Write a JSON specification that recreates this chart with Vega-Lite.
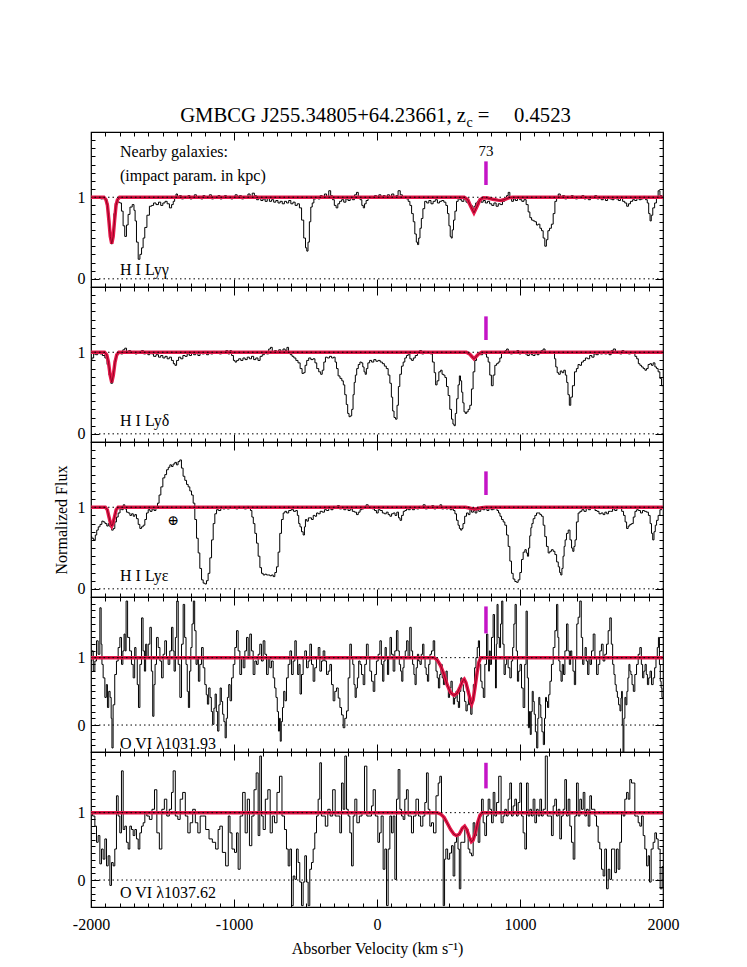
{
"$schema": "https://vega.github.io/schema/vega-lite/v6.json",
"background": "white",
"padding": {"left": 52, "top": 104, "right": 20, "bottom": 5},
"spacing": 0,
"bounds": "flush",
"config": {
  "font": "Liberation Serif",
  "view": {"stroke": "black", "strokeWidth": 1.2},
  "text": {"font": "Liberation Serif", "color": "black"},
  "axis": {"labelFont": "Liberation Serif", "titleFont": "Liberation Serif", "labelColor": "black", "titleColor": "black", "tickColor": "black", "labelFontSize": 16, "titleFontSize": 16, "titleFontWeight": "normal", "domain": false, "grid": false, "tickWidth": 1, "labelOverlap": false, "labelFlush": false, "labelBound": false}
},
"datasets": {
"lev": [{"f": 0}, {"f": 1}],
"m1": [{"v":-2000,"f":1},{"v":-1910,"f":1},{"v":-1895,"f":0.97},{"v":-1885,"f":0.9},{"v":-1875,"f":0.72},{"v":-1865,"f":0.52},{"v":-1855,"f":0.43},{"v":-1845,"f":0.52},{"v":-1835,"f":0.72},{"v":-1825,"f":0.9},{"v":-1815,"f":0.97},{"v":-1800,"f":1},{"v":610,"f":1},{"v":635,"f":0.97},{"v":655,"f":0.89},{"v":678,"f":0.81},{"v":700,"f":0.89},{"v":720,"f":0.97},{"v":745,"f":0.995},{"v":775,"f":0.99},{"v":810,"f":0.975},{"v":845,"f":0.965},{"v":867,"f":0.96},{"v":895,"f":0.975},{"v":925,"f":0.995},{"v":950,"f":1},{"v":2000,"f":1}],
"m2": [{"v":-2000,"f":1},{"v":-1905,"f":1},{"v":-1890,"f":0.97},{"v":-1878,"f":0.88},{"v":-1866,"f":0.72},{"v":-1855,"f":0.63},{"v":-1844,"f":0.72},{"v":-1832,"f":0.88},{"v":-1820,"f":0.97},{"v":-1805,"f":1},{"v":625,"f":1},{"v":650,"f":0.975},{"v":665,"f":0.945},{"v":678,"f":0.92},{"v":692,"f":0.945},{"v":708,"f":0.975},{"v":732,"f":1},{"v":2000,"f":1}],
"m3": [{"v":-2000,"f":1},{"v":-1900,"f":1},{"v":-1886,"f":0.97},{"v":-1874,"f":0.88},{"v":-1863,"f":0.8},{"v":-1855,"f":0.77},{"v":-1847,"f":0.8},{"v":-1836,"f":0.88},{"v":-1824,"f":0.97},{"v":-1810,"f":1},{"v":620,"f":1},{"v":660,"f":0.985},{"v":690,"f":0.98},{"v":720,"f":0.99},{"v":760,"f":1},{"v":2000,"f":1}],
"m4": [{"v":-2000,"f":1},{"v":399,"f":1},{"v":420,"f":0.97},{"v":445,"f":0.88},{"v":469,"f":0.75},{"v":490,"f":0.6},{"v":515,"f":0.48},{"v":538,"f":0.44},{"v":560,"f":0.47},{"v":580,"f":0.56},{"v":600,"f":0.66},{"v":610,"f":0.68},{"v":622,"f":0.63},{"v":640,"f":0.48},{"v":655,"f":0.35},{"v":662,"f":0.31},{"v":672,"f":0.37},{"v":685,"f":0.55},{"v":700,"f":0.78},{"v":712,"f":0.93},{"v":725,"f":1},{"v":2000,"f":1}],
"m5": [{"v":-2000,"f":1},{"v":420,"f":1},{"v":445,"f":0.98},{"v":469,"f":0.93},{"v":490,"f":0.85},{"v":515,"f":0.75},{"v":538,"f":0.68},{"v":555,"f":0.66},{"v":575,"f":0.68},{"v":597,"f":0.77},{"v":613,"f":0.8},{"v":628,"f":0.75},{"v":645,"f":0.64},{"v":660,"f":0.57},{"v":672,"f":0.59},{"v":688,"f":0.7},{"v":705,"f":0.86},{"v":720,"f":0.96},{"v":735,"f":1},{"v":2000,"f":1}],
"s1": [{"v":-2000,"f":1.0},{"v":-1985,"f":0.99},{"v":-1970,"f":1.01},{"v":-1955,"f":0.99},{"v":-1940,"f":1.0},{"v":-1925,"f":0.98},{"v":-1910,"f":0.99},{"v":-1895,"f":0.97},{"v":-1885,"f":0.92},{"v":-1875,"f":0.72},{"v":-1865,"f":0.5},{"v":-1855,"f":0.43},{"v":-1845,"f":0.55},{"v":-1835,"f":0.8},{"v":-1825,"f":0.93},{"v":-1816,"f":0.95},{"v":-1805,"f":0.94},{"v":-1793,"f":0.93},{"v":-1781,"f":0.83},{"v":-1770,"f":0.65},{"v":-1758,"f":0.52},{"v":-1746,"f":0.66},{"v":-1735,"f":0.79},{"v":-1720,"f":0.88},{"v":-1704,"f":0.91},{"v":-1695,"f":0.84},{"v":-1688,"f":0.71},{"v":-1676,"f":0.45},{"v":-1664,"f":0.24},{"v":-1652,"f":0.3},{"v":-1641,"f":0.38},{"v":-1630,"f":0.5},{"v":-1618,"f":0.63},{"v":-1600,"f":0.78},{"v":-1583,"f":0.89},{"v":-1570,"f":0.9},{"v":-1555,"f":0.93},{"v":-1536,"f":0.91},{"v":-1520,"f":0.94},{"v":-1505,"f":0.9},{"v":-1490,"f":0.93},{"v":-1475,"f":0.95},{"v":-1460,"f":0.92},{"v":-1443,"f":0.87},{"v":-1430,"f":0.91},{"v":-1420,"f":0.95},{"v":-1410,"f":1.0},{"v":-1401,"f":1.04},{"v":-1390,"f":0.99},{"v":-1375,"f":1.02},{"v":-1360,"f":0.98},{"v":-1345,"f":1.01},{"v":-1330,"f":0.99},{"v":-1315,"f":1.02},{"v":-1300,"f":0.98},{"v":-1285,"f":1.0},{"v":-1270,"f":1.03},{"v":-1255,"f":0.99},{"v":-1240,"f":1.01},{"v":-1225,"f":0.98},{"v":-1210,"f":1.02},{"v":-1195,"f":0.99},{"v":-1180,"f":1.0},{"v":-1165,"f":1.03},{"v":-1150,"f":0.98},{"v":-1135,"f":1.01},{"v":-1120,"f":0.99},{"v":-1105,"f":1.02},{"v":-1090,"f":0.98},{"v":-1075,"f":1.0},{"v":-1060,"f":1.02},{"v":-1045,"f":0.99},{"v":-1030,"f":1.01},{"v":-1015,"f":0.98},{"v":-1000,"f":1.0},{"v":-985,"f":1.03},{"v":-970,"f":0.99},{"v":-955,"f":1.02},{"v":-940,"f":0.98},{"v":-925,"f":1.01},{"v":-910,"f":1.0},{"v":-895,"f":1.04},{"v":-880,"f":0.99},{"v":-865,"f":1.05},{"v":-850,"f":1.02},{"v":-835,"f":0.97},{"v":-820,"f":1.0},{"v":-805,"f":0.96},{"v":-790,"f":0.98},{"v":-775,"f":0.95},{"v":-760,"f":0.99},{"v":-745,"f":0.95},{"v":-730,"f":0.97},{"v":-715,"f":0.94},{"v":-700,"f":0.96},{"v":-685,"f":0.93},{"v":-670,"f":0.95},{"v":-655,"f":0.92},{"v":-640,"f":0.95},{"v":-625,"f":0.93},{"v":-610,"f":0.96},{"v":-595,"f":0.92},{"v":-580,"f":0.94},{"v":-565,"f":0.9},{"v":-550,"f":0.92},{"v":-535,"f":0.87},{"v":-520,"f":0.72},{"v":-505,"f":0.5},{"v":-495,"f":0.38},{"v":-487,"f":0.34},{"v":-478,"f":0.45},{"v":-468,"f":0.7},{"v":-458,"f":0.88},{"v":-448,"f":0.93},{"v":-435,"f":0.98},{"v":-420,"f":1.0},{"v":-405,"f":0.98},{"v":-390,"f":1.02},{"v":-375,"f":1.0},{"v":-360,"f":1.04},{"v":-345,"f":1.01},{"v":-330,"f":1.08},{"v":-318,"f":1.02},{"v":-305,"f":0.97},{"v":-292,"f":0.9},{"v":-280,"f":0.87},{"v":-268,"f":0.92},{"v":-255,"f":0.95},{"v":-240,"f":0.97},{"v":-225,"f":0.94},{"v":-210,"f":0.98},{"v":-195,"f":0.96},{"v":-180,"f":0.99},{"v":-165,"f":0.97},{"v":-150,"f":1.03},{"v":-137,"f":1.06},{"v":-125,"f":1.0},{"v":-112,"f":0.97},{"v":-100,"f":0.9},{"v":-92,"f":0.87},{"v":-82,"f":0.92},{"v":-70,"f":0.96},{"v":-55,"f":0.99},{"v":-40,"f":1.01},{"v":-25,"f":0.99},{"v":-10,"f":1.02},{"v":5,"f":1.0},{"v":20,"f":1.03},{"v":35,"f":1.0},{"v":50,"f":1.02},{"v":65,"f":0.99},{"v":80,"f":1.03},{"v":95,"f":1.01},{"v":110,"f":1.04},{"v":125,"f":1.0},{"v":140,"f":1.02},{"v":155,"f":1.08},{"v":170,"f":1.03},{"v":185,"f":1.0},{"v":200,"f":1.01},{"v":212,"f":0.98},{"v":224,"f":0.95},{"v":236,"f":0.9},{"v":248,"f":0.8},{"v":259,"f":0.7},{"v":270,"f":0.55},{"v":280,"f":0.45},{"v":287,"f":0.42},{"v":296,"f":0.5},{"v":305,"f":0.62},{"v":315,"f":0.74},{"v":327,"f":0.86},{"v":340,"f":0.95},{"v":355,"f":0.93},{"v":370,"f":0.96},{"v":385,"f":0.92},{"v":400,"f":0.95},{"v":415,"f":0.97},{"v":430,"f":0.93},{"v":445,"f":0.95},{"v":460,"f":0.96},{"v":475,"f":0.94},{"v":488,"f":0.9},{"v":498,"f":0.8},{"v":508,"f":0.65},{"v":516,"f":0.52},{"v":522,"f":0.5},{"v":530,"f":0.6},{"v":540,"f":0.72},{"v":550,"f":0.83},{"v":562,"f":0.95},{"v":573,"f":1.0},{"v":585,"f":0.97},{"v":600,"f":0.95},{"v":615,"f":0.98},{"v":630,"f":0.94},{"v":645,"f":0.92},{"v":660,"f":0.9},{"v":672,"f":0.86},{"v":684,"f":0.89},{"v":696,"f":0.93},{"v":708,"f":0.95},{"v":720,"f":0.97},{"v":735,"f":0.94},{"v":750,"f":0.96},{"v":765,"f":0.93},{"v":780,"f":0.95},{"v":795,"f":0.92},{"v":810,"f":0.9},{"v":825,"f":0.93},{"v":841,"f":0.89},{"v":855,"f":0.92},{"v":870,"f":0.91},{"v":885,"f":0.95},{"v":900,"f":0.97},{"v":912,"f":1.02},{"v":923,"f":1.06},{"v":935,"f":0.99},{"v":948,"f":0.95},{"v":960,"f":0.98},{"v":975,"f":0.96},{"v":990,"f":0.99},{"v":1005,"f":0.97},{"v":1020,"f":0.95},{"v":1035,"f":0.97},{"v":1051,"f":0.91},{"v":1063,"f":0.82},{"v":1075,"f":0.75},{"v":1087,"f":0.72},{"v":1098,"f":0.71},{"v":1110,"f":0.7},{"v":1120,"f":0.66},{"v":1133,"f":0.67},{"v":1145,"f":0.62},{"v":1156,"f":0.59},{"v":1168,"f":0.5},{"v":1179,"f":0.4},{"v":1190,"f":0.48},{"v":1200,"f":0.59},{"v":1213,"f":0.62},{"v":1226,"f":0.67},{"v":1238,"f":0.8},{"v":1250,"f":0.95},{"v":1262,"f":1.0},{"v":1273,"f":1.04},{"v":1290,"f":0.99},{"v":1305,"f":1.02},{"v":1320,"f":0.98},{"v":1335,"f":1.01},{"v":1350,"f":0.99},{"v":1365,"f":1.02},{"v":1380,"f":1.0},{"v":1395,"f":0.98},{"v":1410,"f":1.01},{"v":1425,"f":0.99},{"v":1440,"f":1.02},{"v":1455,"f":0.98},{"v":1470,"f":1.0},{"v":1485,"f":0.97},{"v":1500,"f":1.01},{"v":1515,"f":0.99},{"v":1530,"f":1.02},{"v":1545,"f":0.98},{"v":1560,"f":1.0},{"v":1575,"f":0.97},{"v":1590,"f":0.99},{"v":1605,"f":0.96},{"v":1620,"f":1.0},{"v":1635,"f":0.98},{"v":1650,"f":0.97},{"v":1665,"f":1.0},{"v":1680,"f":0.98},{"v":1695,"f":0.96},{"v":1710,"f":0.99},{"v":1725,"f":0.95},{"v":1740,"f":0.93},{"v":1752,"f":0.89},{"v":1765,"f":0.92},{"v":1780,"f":0.95},{"v":1795,"f":0.97},{"v":1810,"f":0.96},{"v":1825,"f":0.99},{"v":1840,"f":0.97},{"v":1855,"f":0.98},{"v":1870,"f":1.01},{"v":1885,"f":0.97},{"v":1895,"f":0.93},{"v":1905,"f":0.8},{"v":1914,"f":0.71},{"v":1922,"f":0.78},{"v":1935,"f":0.87},{"v":1948,"f":0.93},{"v":1960,"f":1.0},{"v":1972,"f":1.08},{"v":1985,"f":1.02},{"v":2000,"f":1.0}],
"s2": [{"v":-2000,"f":0.9},{"v":-1988,"f":0.93},{"v":-1975,"f":0.98},{"v":-1960,"f":0.97},{"v":-1946,"f":1.0},{"v":-1930,"f":0.98},{"v":-1911,"f":0.96},{"v":-1895,"f":0.93},{"v":-1880,"f":0.85},{"v":-1868,"f":0.72},{"v":-1855,"f":0.62},{"v":-1843,"f":0.72},{"v":-1830,"f":0.9},{"v":-1815,"f":0.97},{"v":-1800,"f":1.0},{"v":-1785,"f":0.98},{"v":-1770,"f":1.03},{"v":-1758,"f":1.05},{"v":-1745,"f":1.0},{"v":-1730,"f":1.02},{"v":-1715,"f":0.99},{"v":-1699,"f":1.01},{"v":-1685,"f":0.98},{"v":-1670,"f":1.0},{"v":-1655,"f":0.99},{"v":-1640,"f":1.02},{"v":-1625,"f":0.98},{"v":-1610,"f":1.0},{"v":-1595,"f":0.97},{"v":-1583,"f":1.0},{"v":-1570,"f":0.98},{"v":-1555,"f":0.95},{"v":-1536,"f":0.97},{"v":-1520,"f":0.94},{"v":-1505,"f":0.96},{"v":-1490,"f":0.93},{"v":-1475,"f":0.95},{"v":-1460,"f":0.92},{"v":-1445,"f":0.94},{"v":-1430,"f":0.9},{"v":-1418,"f":0.86},{"v":-1408,"f":0.84},{"v":-1395,"f":0.9},{"v":-1380,"f":0.94},{"v":-1365,"f":0.92},{"v":-1350,"f":0.96},{"v":-1335,"f":0.95},{"v":-1320,"f":0.98},{"v":-1305,"f":0.96},{"v":-1290,"f":0.99},{"v":-1275,"f":0.97},{"v":-1260,"f":0.99},{"v":-1245,"f":0.96},{"v":-1230,"f":1.0},{"v":-1215,"f":0.98},{"v":-1200,"f":1.01},{"v":-1185,"f":0.97},{"v":-1170,"f":1.0},{"v":-1155,"f":0.98},{"v":-1140,"f":1.01},{"v":-1125,"f":0.99},{"v":-1110,"f":1.0},{"v":-1095,"f":0.98},{"v":-1080,"f":1.01},{"v":-1065,"f":0.99},{"v":-1050,"f":1.02},{"v":-1035,"f":0.98},{"v":-1023,"f":1.02},{"v":-1010,"f":0.96},{"v":-998,"f":0.9},{"v":-988,"f":0.88},{"v":-975,"f":0.9},{"v":-960,"f":0.92},{"v":-945,"f":0.9},{"v":-930,"f":0.93},{"v":-915,"f":0.91},{"v":-900,"f":0.94},{"v":-885,"f":0.92},{"v":-870,"f":0.95},{"v":-855,"f":0.91},{"v":-840,"f":0.93},{"v":-825,"f":0.9},{"v":-810,"f":0.95},{"v":-795,"f":0.97},{"v":-780,"f":1.0},{"v":-765,"f":0.98},{"v":-750,"f":1.04},{"v":-740,"f":1.06},{"v":-725,"f":1.0},{"v":-710,"f":1.02},{"v":-695,"f":0.99},{"v":-680,"f":1.03},{"v":-665,"f":1.0},{"v":-650,"f":1.04},{"v":-635,"f":1.02},{"v":-625,"f":1.06},{"v":-612,"f":1.0},{"v":-600,"f":0.97},{"v":-588,"f":0.95},{"v":-575,"f":0.93},{"v":-560,"f":0.9},{"v":-545,"f":0.87},{"v":-530,"f":0.8},{"v":-518,"f":0.74},{"v":-508,"f":0.75},{"v":-498,"f":0.84},{"v":-485,"f":0.9},{"v":-470,"f":0.93},{"v":-455,"f":0.91},{"v":-440,"f":0.92},{"v":-428,"f":0.87},{"v":-415,"f":0.8},{"v":-400,"f":0.76},{"v":-388,"f":0.73},{"v":-378,"f":0.78},{"v":-366,"f":0.88},{"v":-355,"f":0.94},{"v":-340,"f":0.93},{"v":-325,"f":0.95},{"v":-310,"f":0.93},{"v":-298,"f":0.94},{"v":-288,"f":0.88},{"v":-278,"f":0.8},{"v":-266,"f":0.71},{"v":-252,"f":0.68},{"v":-240,"f":0.65},{"v":-231,"f":0.6},{"v":-220,"f":0.48},{"v":-210,"f":0.36},{"v":-200,"f":0.25},{"v":-191,"f":0.21},{"v":-182,"f":0.22},{"v":-172,"f":0.3},{"v":-163,"f":0.48},{"v":-156,"f":0.63},{"v":-147,"f":0.72},{"v":-137,"f":0.8},{"v":-125,"f":0.85},{"v":-114,"f":0.88},{"v":-104,"f":0.87},{"v":-95,"f":0.82},{"v":-86,"f":0.76},{"v":-79,"f":0.73},{"v":-70,"f":0.8},{"v":-58,"f":0.87},{"v":-45,"f":0.9},{"v":-30,"f":0.88},{"v":-15,"f":0.91},{"v":0,"f":0.89},{"v":15,"f":0.9},{"v":30,"f":0.88},{"v":45,"f":0.86},{"v":58,"f":0.83},{"v":72,"f":0.8},{"v":84,"f":0.72},{"v":96,"f":0.62},{"v":105,"f":0.45},{"v":114,"f":0.28},{"v":124,"f":0.2},{"v":135,"f":0.18},{"v":145,"f":0.35},{"v":154,"f":0.58},{"v":165,"f":0.73},{"v":177,"f":0.83},{"v":189,"f":0.88},{"v":200,"f":0.93},{"v":212,"f":0.96},{"v":224,"f":0.98},{"v":236,"f":0.92},{"v":248,"f":0.9},{"v":260,"f":0.93},{"v":275,"f":0.96},{"v":290,"f":0.99},{"v":305,"f":1.02},{"v":320,"f":0.98},{"v":335,"f":1.01},{"v":350,"f":0.99},{"v":365,"f":1.0},{"v":380,"f":0.98},{"v":395,"f":0.88},{"v":405,"f":0.75},{"v":415,"f":0.6},{"v":425,"f":0.65},{"v":440,"f":0.76},{"v":450,"f":0.78},{"v":460,"f":0.73},{"v":470,"f":0.72},{"v":480,"f":0.69},{"v":492,"f":0.58},{"v":503,"f":0.47},{"v":515,"f":0.3},{"v":527,"f":0.18},{"v":535,"f":0.12},{"v":543,"f":0.1},{"v":552,"f":0.25},{"v":562,"f":0.43},{"v":572,"f":0.6},{"v":580,"f":0.71},{"v":588,"f":0.65},{"v":596,"f":0.51},{"v":604,"f":0.38},{"v":613,"f":0.27},{"v":622,"f":0.25},{"v":632,"f":0.27},{"v":643,"f":0.3},{"v":655,"f":0.35},{"v":666,"f":0.55},{"v":678,"f":0.76},{"v":690,"f":0.9},{"v":702,"f":0.96},{"v":715,"f":0.98},{"v":730,"f":0.97},{"v":748,"f":1.0},{"v":760,"f":0.98},{"v":772,"f":0.94},{"v":783,"f":0.88},{"v":794,"f":0.72},{"v":806,"f":0.59},{"v":818,"f":0.72},{"v":830,"f":0.84},{"v":842,"f":0.86},{"v":853,"f":0.88},{"v":865,"f":0.93},{"v":876,"f":1.0},{"v":890,"f":0.99},{"v":902,"f":1.02},{"v":911,"f":1.04},{"v":925,"f":1.0},{"v":940,"f":0.98},{"v":955,"f":1.01},{"v":970,"f":0.99},{"v":985,"f":1.02},{"v":1000,"f":0.98},{"v":1015,"f":1.01},{"v":1028,"f":1.0},{"v":1042,"f":0.98},{"v":1058,"f":0.96},{"v":1072,"f":0.99},{"v":1085,"f":0.97},{"v":1098,"f":0.96},{"v":1112,"f":0.99},{"v":1126,"f":0.97},{"v":1140,"f":1.0},{"v":1155,"f":1.02},{"v":1168,"f":1.04},{"v":1182,"f":1.0},{"v":1196,"f":0.99},{"v":1210,"f":1.01},{"v":1225,"f":0.99},{"v":1238,"f":1.0},{"v":1245,"f":0.92},{"v":1255,"f":0.82},{"v":1265,"f":0.75},{"v":1275,"f":0.73},{"v":1288,"f":0.77},{"v":1300,"f":0.75},{"v":1312,"f":0.78},{"v":1322,"f":0.72},{"v":1331,"f":0.63},{"v":1340,"f":0.48},{"v":1350,"f":0.35},{"v":1360,"f":0.45},{"v":1373,"f":0.59},{"v":1389,"f":0.76},{"v":1400,"f":0.8},{"v":1412,"f":0.85},{"v":1424,"f":0.84},{"v":1436,"f":0.88},{"v":1450,"f":0.9},{"v":1465,"f":0.93},{"v":1480,"f":0.92},{"v":1494,"f":0.96},{"v":1510,"f":0.94},{"v":1525,"f":0.98},{"v":1540,"f":0.97},{"v":1555,"f":1.0},{"v":1570,"f":0.98},{"v":1585,"f":1.01},{"v":1600,"f":0.98},{"v":1615,"f":1.0},{"v":1630,"f":0.97},{"v":1645,"f":1.02},{"v":1660,"f":1.04},{"v":1675,"f":0.99},{"v":1690,"f":1.01},{"v":1705,"f":0.98},{"v":1720,"f":1.02},{"v":1735,"f":0.99},{"v":1750,"f":1.01},{"v":1765,"f":0.98},{"v":1780,"f":1.0},{"v":1797,"f":0.99},{"v":1810,"f":0.95},{"v":1822,"f":0.92},{"v":1833,"f":0.86},{"v":1844,"f":0.84},{"v":1855,"f":0.82},{"v":1868,"f":0.8},{"v":1879,"f":0.78},{"v":1890,"f":0.8},{"v":1902,"f":0.85},{"v":1914,"f":0.86},{"v":1925,"f":0.84},{"v":1937,"f":0.87},{"v":1950,"f":0.82},{"v":1960,"f":0.8},{"v":1972,"f":0.76},{"v":1984,"f":0.68},{"v":1995,"f":0.59},{"v":2000,"f":0.59}],
"s3": [{"v":-2000,"f":0.64},{"v":-1988,"f":0.62},{"v":-1975,"f":0.6},{"v":-1965,"f":0.66},{"v":-1955,"f":0.72},{"v":-1944,"f":0.76},{"v":-1930,"f":0.79},{"v":-1918,"f":0.83},{"v":-1909,"f":0.82},{"v":-1895,"f":0.8},{"v":-1884,"f":0.77},{"v":-1874,"f":0.8},{"v":-1862,"f":0.76},{"v":-1850,"f":0.72},{"v":-1839,"f":0.74},{"v":-1828,"f":0.82},{"v":-1816,"f":0.88},{"v":-1804,"f":0.93},{"v":-1790,"f":0.98},{"v":-1780,"f":0.97},{"v":-1769,"f":1.03},{"v":-1758,"f":0.98},{"v":-1746,"f":0.94},{"v":-1734,"f":0.93},{"v":-1722,"f":0.9},{"v":-1710,"f":0.92},{"v":-1699,"f":0.89},{"v":-1688,"f":0.91},{"v":-1676,"f":0.86},{"v":-1664,"f":0.79},{"v":-1653,"f":0.74},{"v":-1641,"f":0.76},{"v":-1629,"f":0.78},{"v":-1618,"f":0.85},{"v":-1606,"f":0.93},{"v":-1594,"f":0.97},{"v":-1580,"f":0.95},{"v":-1566,"f":0.98},{"v":-1552,"f":0.96},{"v":-1540,"f":1.0},{"v":-1530,"f":1.05},{"v":-1518,"f":1.15},{"v":-1505,"f":1.25},{"v":-1490,"f":1.36},{"v":-1478,"f":1.4},{"v":-1465,"f":1.46},{"v":-1454,"f":1.49},{"v":-1443,"f":1.52},{"v":-1432,"f":1.5},{"v":-1420,"f":1.53},{"v":-1408,"f":1.55},{"v":-1397,"f":1.52},{"v":-1385,"f":1.56},{"v":-1373,"f":1.58},{"v":-1362,"f":1.48},{"v":-1350,"f":1.38},{"v":-1338,"f":1.33},{"v":-1326,"f":1.28},{"v":-1315,"f":1.25},{"v":-1303,"f":1.2},{"v":-1291,"f":1.15},{"v":-1280,"f":1.05},{"v":-1268,"f":0.85},{"v":-1256,"f":0.62},{"v":-1245,"f":0.44},{"v":-1233,"f":0.25},{"v":-1221,"f":0.11},{"v":-1210,"f":0.07},{"v":-1198,"f":0.06},{"v":-1187,"f":0.1},{"v":-1175,"f":0.19},{"v":-1163,"f":0.38},{"v":-1151,"f":0.6},{"v":-1140,"f":0.8},{"v":-1128,"f":0.92},{"v":-1116,"f":0.97},{"v":-1100,"f":0.96},{"v":-1085,"f":0.99},{"v":-1070,"f":0.98},{"v":-1055,"f":1.0},{"v":-1040,"f":0.98},{"v":-1025,"f":1.01},{"v":-1010,"f":0.99},{"v":-995,"f":1.0},{"v":-980,"f":0.98},{"v":-965,"f":1.01},{"v":-950,"f":0.99},{"v":-935,"f":1.0},{"v":-920,"f":0.98},{"v":-905,"f":1.01},{"v":-890,"f":0.99},{"v":-880,"f":0.96},{"v":-870,"f":0.88},{"v":-860,"f":0.8},{"v":-848,"f":0.68},{"v":-837,"f":0.56},{"v":-825,"f":0.4},{"v":-813,"f":0.26},{"v":-802,"f":0.19},{"v":-790,"f":0.17},{"v":-778,"f":0.18},{"v":-767,"f":0.17},{"v":-755,"f":0.17},{"v":-743,"f":0.16},{"v":-732,"f":0.17},{"v":-720,"f":0.15},{"v":-709,"f":0.2},{"v":-697,"f":0.27},{"v":-686,"f":0.45},{"v":-674,"f":0.68},{"v":-662,"f":0.85},{"v":-650,"f":0.93},{"v":-639,"f":0.95},{"v":-625,"f":0.93},{"v":-610,"f":0.96},{"v":-592,"f":0.97},{"v":-575,"f":0.95},{"v":-562,"f":0.96},{"v":-552,"f":0.9},{"v":-543,"f":0.8},{"v":-534,"f":0.76},{"v":-522,"f":0.7},{"v":-511,"f":0.66},{"v":-504,"f":0.76},{"v":-497,"f":0.85},{"v":-485,"f":0.83},{"v":-475,"f":0.87},{"v":-464,"f":0.87},{"v":-452,"f":0.85},{"v":-440,"f":0.9},{"v":-428,"f":0.89},{"v":-417,"f":0.93},{"v":-405,"f":0.92},{"v":-390,"f":0.95},{"v":-375,"f":0.94},{"v":-360,"f":0.97},{"v":-345,"f":0.96},{"v":-330,"f":0.99},{"v":-315,"f":0.97},{"v":-300,"f":1.01},{"v":-285,"f":0.99},{"v":-270,"f":1.02},{"v":-255,"f":0.98},{"v":-240,"f":1.0},{"v":-225,"f":0.97},{"v":-210,"f":0.99},{"v":-195,"f":0.96},{"v":-180,"f":0.98},{"v":-165,"f":0.95},{"v":-150,"f":0.94},{"v":-137,"f":0.91},{"v":-125,"f":0.94},{"v":-112,"f":0.97},{"v":-100,"f":0.98},{"v":-85,"f":1.0},{"v":-68,"f":1.03},{"v":-55,"f":0.99},{"v":-40,"f":1.01},{"v":-25,"f":0.98},{"v":-10,"f":0.96},{"v":2,"f":0.93},{"v":15,"f":0.97},{"v":30,"f":0.96},{"v":45,"f":0.93},{"v":58,"f":0.92},{"v":72,"f":0.94},{"v":84,"f":0.91},{"v":96,"f":0.89},{"v":108,"f":0.92},{"v":120,"f":0.93},{"v":132,"f":0.9},{"v":145,"f":0.94},{"v":156,"f":0.87},{"v":166,"f":0.84},{"v":178,"f":0.9},{"v":190,"f":0.95},{"v":200,"f":0.96},{"v":212,"f":0.98},{"v":225,"f":0.97},{"v":240,"f":0.99},{"v":255,"f":0.97},{"v":270,"f":1.0},{"v":285,"f":0.98},{"v":300,"f":1.01},{"v":315,"f":0.99},{"v":329,"f":1.03},{"v":345,"f":0.98},{"v":360,"f":1.01},{"v":375,"f":0.99},{"v":390,"f":1.02},{"v":405,"f":0.98},{"v":420,"f":1.01},{"v":435,"f":0.99},{"v":445,"f":1.03},{"v":460,"f":0.98},{"v":475,"f":1.0},{"v":490,"f":0.98},{"v":505,"f":0.99},{"v":518,"f":0.97},{"v":527,"f":0.98},{"v":540,"f":0.96},{"v":550,"f":0.92},{"v":562,"f":0.84},{"v":572,"f":0.78},{"v":580,"f":0.74},{"v":590,"f":0.72},{"v":597,"f":0.74},{"v":606,"f":0.8},{"v":620,"f":0.89},{"v":632,"f":0.93},{"v":645,"f":0.91},{"v":655,"f":0.97},{"v":668,"f":0.94},{"v":680,"f":0.96},{"v":692,"f":0.93},{"v":705,"f":0.97},{"v":718,"f":0.95},{"v":733,"f":0.98},{"v":748,"f":0.97},{"v":762,"f":0.99},{"v":775,"f":0.96},{"v":790,"f":0.99},{"v":805,"f":0.97},{"v":820,"f":0.98},{"v":833,"f":0.99},{"v":845,"f":0.96},{"v":855,"f":0.93},{"v":865,"f":0.89},{"v":877,"f":0.85},{"v":888,"f":0.82},{"v":900,"f":0.78},{"v":912,"f":0.66},{"v":923,"f":0.52},{"v":935,"f":0.34},{"v":946,"f":0.19},{"v":958,"f":0.12},{"v":970,"f":0.09},{"v":981,"f":0.08},{"v":993,"f":0.11},{"v":1005,"f":0.2},{"v":1016,"f":0.36},{"v":1028,"f":0.45},{"v":1040,"f":0.48},{"v":1048,"f":0.44},{"v":1056,"f":0.4},{"v":1064,"f":0.5},{"v":1072,"f":0.65},{"v":1080,"f":0.75},{"v":1086,"f":0.8},{"v":1098,"f":0.86},{"v":1110,"f":0.9},{"v":1121,"f":0.93},{"v":1133,"f":0.93},{"v":1145,"f":0.91},{"v":1156,"f":0.89},{"v":1168,"f":0.78},{"v":1179,"f":0.64},{"v":1191,"f":0.52},{"v":1203,"f":0.44},{"v":1214,"f":0.46},{"v":1226,"f":0.48},{"v":1238,"f":0.46},{"v":1250,"f":0.42},{"v":1262,"f":0.33},{"v":1273,"f":0.27},{"v":1281,"f":0.2},{"v":1289,"f":0.17},{"v":1297,"f":0.25},{"v":1305,"f":0.4},{"v":1312,"f":0.52},{"v":1319,"f":0.6},{"v":1331,"f":0.68},{"v":1343,"f":0.72},{"v":1356,"f":0.6},{"v":1365,"f":0.5},{"v":1373,"f":0.46},{"v":1381,"f":0.52},{"v":1389,"f":0.6},{"v":1400,"f":0.82},{"v":1413,"f":0.93},{"v":1425,"f":0.95},{"v":1440,"f":0.97},{"v":1455,"f":0.95},{"v":1471,"f":0.99},{"v":1485,"f":0.97},{"v":1500,"f":0.99},{"v":1518,"f":1.0},{"v":1532,"f":0.96},{"v":1545,"f":0.95},{"v":1560,"f":0.92},{"v":1575,"f":0.93},{"v":1587,"f":0.91},{"v":1600,"f":0.94},{"v":1612,"f":0.92},{"v":1625,"f":0.95},{"v":1640,"f":0.95},{"v":1655,"f":0.98},{"v":1670,"f":0.96},{"v":1685,"f":0.99},{"v":1704,"f":0.99},{"v":1718,"f":0.95},{"v":1730,"f":0.9},{"v":1740,"f":0.82},{"v":1751,"f":0.74},{"v":1762,"f":0.77},{"v":1774,"f":0.79},{"v":1786,"f":0.8},{"v":1798,"f":0.88},{"v":1810,"f":0.95},{"v":1821,"f":0.97},{"v":1835,"f":0.96},{"v":1850,"f":0.93},{"v":1863,"f":0.96},{"v":1877,"f":0.95},{"v":1891,"f":0.94},{"v":1905,"f":0.9},{"v":1915,"f":0.8},{"v":1924,"f":0.68},{"v":1932,"f":0.6},{"v":1942,"f":0.7},{"v":1950,"f":0.78},{"v":1960,"f":0.84},{"v":1972,"f":0.9},{"v":1985,"f":0.97},{"v":1995,"f":0.99},{"v":2000,"f":0.99}],
"s4": [{"v":-2000,"f":0.95},{"v":-1989,"f":1.1},{"v":-1979,"f":0.8},{"v":-1967,"f":0.95},{"v":-1956,"f":1.25},{"v":-1944,"f":1.05},{"v":-1932,"f":1.74},{"v":-1926,"f":1.2},{"v":-1921,"f":0.9},{"v":-1909,"f":0.7},{"v":-1897,"f":0.41},{"v":-1889,"f":0.6},{"v":-1881,"f":0.26},{"v":-1871,"f":0.5},{"v":-1862,"f":0.41},{"v":-1856,"f":0.1},{"v":-1851,"f":-0.34},{"v":-1840,"f":0.3},{"v":-1828,"f":0.75},{"v":-1816,"f":0.95},{"v":-1804,"f":1.15},{"v":-1792,"f":1.3},{"v":-1781,"f":0.9},{"v":-1773,"f":1.1},{"v":-1765,"f":1.35},{"v":-1758,"f":1.1},{"v":-1751,"f":1.84},{"v":-1737,"f":1.3},{"v":-1723,"f":1.1},{"v":-1711,"f":0.9},{"v":-1699,"f":0.7},{"v":-1690,"f":1.15},{"v":-1681,"f":1.0},{"v":-1672,"f":0.6},{"v":-1664,"f":0.26},{"v":-1652,"f":0.9},{"v":-1641,"f":1.59},{"v":-1631,"f":1.1},{"v":-1622,"f":0.8},{"v":-1614,"f":1.2},{"v":-1606,"f":1.0},{"v":-1594,"f":1.2},{"v":-1583,"f":1.45},{"v":-1573,"f":0.8},{"v":-1564,"f":0.13},{"v":-1556,"f":0.6},{"v":-1548,"f":0.9},{"v":-1536,"f":1.3},{"v":-1524,"f":1.15},{"v":-1512,"f":0.95},{"v":-1501,"f":0.7},{"v":-1490,"f":1.05},{"v":-1478,"f":1.25},{"v":-1466,"f":1.0},{"v":-1455,"f":0.9},{"v":-1443,"f":1.1},{"v":-1431,"f":1.45},{"v":-1423,"f":1.1},{"v":-1415,"f":0.8},{"v":-1405,"f":1.3},{"v":-1396,"f":1.84},{"v":-1384,"f":0.9},{"v":-1373,"f":0.41},{"v":-1361,"f":1.2},{"v":-1350,"f":1.79},{"v":-1340,"f":1.3},{"v":-1331,"f":0.9},{"v":-1323,"f":0.5},{"v":-1315,"f":0.26},{"v":-1306,"f":0.8},{"v":-1298,"f":1.15},{"v":-1289,"f":1.5},{"v":-1280,"f":1.84},{"v":-1270,"f":1.4},{"v":-1261,"f":0.9},{"v":-1253,"f":1.0},{"v":-1245,"f":0.65},{"v":-1233,"f":0.9},{"v":-1221,"f":1.15},{"v":-1210,"f":0.85},{"v":-1198,"f":0.6},{"v":-1190,"f":0.45},{"v":-1182,"f":0.31},{"v":-1172,"f":0.55},{"v":-1163,"f":0.41},{"v":-1154,"f":0.2},{"v":-1145,"f":0.01},{"v":-1136,"f":0.25},{"v":-1128,"f":0.46},{"v":-1119,"f":0.2},{"v":-1110,"f":-0.09},{"v":-1101,"f":0.3},{"v":-1093,"f":0.55},{"v":-1084,"f":0.35},{"v":-1075,"f":0.16},{"v":-1066,"f":0.05},{"v":-1058,"f":-0.19},{"v":-1050,"f":0.1},{"v":-1042,"f":0.41},{"v":-1032,"f":0.6},{"v":-1023,"f":0.36},{"v":-1011,"f":0.7},{"v":-1000,"f":0.9},{"v":-988,"f":1.15},{"v":-977,"f":1.4},{"v":-965,"f":1.1},{"v":-953,"f":0.75},{"v":-941,"f":1.0},{"v":-930,"f":0.85},{"v":-918,"f":1.1},{"v":-907,"f":1.3},{"v":-895,"f":1.0},{"v":-884,"f":1.35},{"v":-872,"f":1.1},{"v":-860,"f":0.75},{"v":-848,"f":0.95},{"v":-837,"f":0.9},{"v":-825,"f":1.05},{"v":-814,"f":1.2},{"v":-802,"f":0.95},{"v":-790,"f":1.25},{"v":-778,"f":1.05},{"v":-767,"f":0.75},{"v":-755,"f":1.0},{"v":-744,"f":0.85},{"v":-732,"f":0.95},{"v":-720,"f":0.7},{"v":-711,"f":0.55},{"v":-702,"f":0.41},{"v":-693,"f":0.2},{"v":-685,"f":-0.09},{"v":-679,"f":0.1},{"v":-674,"f":-0.24},{"v":-665,"f":0.05},{"v":-657,"f":0.26},{"v":-648,"f":0.5},{"v":-639,"f":0.36},{"v":-627,"f":0.7},{"v":-615,"f":0.9},{"v":-603,"f":1.1},{"v":-592,"f":0.75},{"v":-580,"f":0.95},{"v":-569,"f":1.25},{"v":-560,"f":1.0},{"v":-550,"f":0.75},{"v":-542,"f":0.9},{"v":-534,"f":0.46},{"v":-522,"f":0.75},{"v":-511,"f":1.0},{"v":-499,"f":1.1},{"v":-487,"f":0.85},{"v":-475,"f":0.95},{"v":-464,"f":1.2},{"v":-452,"f":0.9},{"v":-441,"f":0.65},{"v":-429,"f":0.85},{"v":-417,"f":1.0},{"v":-405,"f":1.15},{"v":-394,"f":0.8},{"v":-382,"f":0.95},{"v":-371,"f":1.1},{"v":-359,"f":0.95},{"v":-347,"f":0.75},{"v":-335,"f":0.8},{"v":-324,"f":0.9},{"v":-312,"f":0.6},{"v":-301,"f":0.36},{"v":-289,"f":0.5},{"v":-277,"f":0.55},{"v":-265,"f":0.4},{"v":-254,"f":0.26},{"v":-242,"f":0.15},{"v":-231,"f":-0.04},{"v":-219,"f":0.1},{"v":-207,"f":0.21},{"v":-196,"f":0.7},{"v":-184,"f":1.2},{"v":-174,"f":1.0},{"v":-165,"f":0.9},{"v":-157,"f":0.6},{"v":-149,"f":0.41},{"v":-141,"f":0.55},{"v":-133,"f":0.7},{"v":-123,"f":0.95},{"v":-114,"f":0.9},{"v":-102,"f":0.75},{"v":-91,"f":0.6},{"v":-80,"f":0.9},{"v":-68,"f":1.2},{"v":-56,"f":1.0},{"v":-44,"f":0.8},{"v":-32,"f":0.65},{"v":-21,"f":0.5},{"v":-10,"f":0.75},{"v":2,"f":0.95},{"v":14,"f":1.05},{"v":26,"f":1.25},{"v":35,"f":0.9},{"v":44,"f":0.65},{"v":52,"f":0.95},{"v":61,"f":1.15},{"v":69,"f":1.0},{"v":77,"f":0.75},{"v":86,"f":1.0},{"v":96,"f":1.3},{"v":107,"f":1.05},{"v":119,"f":0.8},{"v":130,"f":1.1},{"v":142,"f":1.4},{"v":151,"f":1.1},{"v":161,"f":0.9},{"v":169,"f":0.8},{"v":177,"f":0.65},{"v":185,"f":0.85},{"v":193,"f":1.0},{"v":202,"f":1.1},{"v":212,"f":1.25},{"v":223,"f":1.0},{"v":235,"f":1.45},{"v":244,"f":1.1},{"v":254,"f":0.9},{"v":262,"f":0.75},{"v":270,"f":0.6},{"v":278,"f":0.85},{"v":287,"f":1.05},{"v":296,"f":0.95},{"v":305,"f":0.9},{"v":314,"f":1.05},{"v":324,"f":1.2},{"v":332,"f":1.0},{"v":340,"f":0.85},{"v":348,"f":0.75},{"v":357,"f":0.65},{"v":366,"f":0.9},{"v":375,"f":1.05},{"v":387,"f":1.1},{"v":399,"f":1.25},{"v":408,"f":1.0},{"v":417,"f":0.8},{"v":425,"f":0.7},{"v":434,"f":0.55},{"v":443,"f":0.75},{"v":452,"f":0.9},{"v":460,"f":0.7},{"v":469,"f":0.6},{"v":478,"f":0.7},{"v":487,"f":0.8},{"v":495,"f":0.6},{"v":503,"f":0.41},{"v":512,"f":0.55},{"v":522,"f":0.65},{"v":530,"f":0.45},{"v":538,"f":0.31},{"v":547,"f":0.4},{"v":557,"f":0.5},{"v":565,"f":0.35},{"v":573,"f":0.26},{"v":582,"f":0.5},{"v":590,"f":0.7},{"v":599,"f":0.6},{"v":608,"f":0.5},{"v":617,"f":0.35},{"v":627,"f":0.21},{"v":635,"f":0.3},{"v":643,"f":0.41},{"v":651,"f":0.3},{"v":660,"f":0.16},{"v":669,"f":0.35},{"v":678,"f":0.6},{"v":687,"f":0.85},{"v":697,"f":1.0},{"v":705,"f":1.15},{"v":713,"f":1.25},{"v":721,"f":0.9},{"v":730,"f":0.65},{"v":739,"f":0.55},{"v":748,"f":0.41},{"v":760,"f":0.9},{"v":772,"f":1.35},{"v":778,"f":1.0},{"v":783,"f":0.8},{"v":789,"f":1.1},{"v":795,"f":0.9},{"v":806,"f":1.3},{"v":818,"f":1.64},{"v":825,"f":1.0},{"v":832,"f":0.55},{"v":837,"f":1.2},{"v":842,"f":1.79},{"v":851,"f":1.3},{"v":860,"f":1.15},{"v":868,"f":1.5},{"v":876,"f":1.84},{"v":884,"f":1.2},{"v":893,"f":0.75},{"v":902,"f":0.9},{"v":911,"f":1.0},{"v":923,"f":0.85},{"v":935,"f":0.7},{"v":944,"f":0.95},{"v":953,"f":1.15},{"v":961,"f":1.5},{"v":970,"f":1.79},{"v":978,"f":1.1},{"v":986,"f":0.65},{"v":995,"f":0.8},{"v":1005,"f":0.9},{"v":1016,"f":0.55},{"v":1028,"f":0.26},{"v":1038,"f":0.9},{"v":1047,"f":1.69},{"v":1055,"f":0.7},{"v":1063,"f":-0.04},{"v":1069,"f":0.2},{"v":1075,"f":-0.14},{"v":1082,"f":0.2},{"v":1089,"f":0.5},{"v":1096,"f":0.35},{"v":1103,"f":0.16},{"v":1112,"f":-0.1},{"v":1121,"f":-0.34},{"v":1128,"f":0.1},{"v":1135,"f":0.41},{"v":1142,"f":0.3},{"v":1149,"f":0.11},{"v":1158,"f":-0.1},{"v":1168,"f":-0.29},{"v":1175,"f":0.1},{"v":1182,"f":0.41},{"v":1189,"f":0.35},{"v":1196,"f":0.26},{"v":1205,"f":0.45},{"v":1214,"f":0.65},{"v":1226,"f":0.9},{"v":1238,"f":1.15},{"v":1250,"f":1.4},{"v":1261,"f":1.79},{"v":1268,"f":1.3},{"v":1275,"f":0.95},{"v":1283,"f":0.8},{"v":1291,"f":0.65},{"v":1300,"f":0.9},{"v":1308,"f":0.75},{"v":1320,"f":1.1},{"v":1331,"f":1.5},{"v":1340,"f":1.1},{"v":1350,"f":0.9},{"v":1358,"f":1.1},{"v":1366,"f":1.0},{"v":1375,"f":0.8},{"v":1385,"f":0.6},{"v":1393,"f":1.0},{"v":1401,"f":1.5},{"v":1412,"f":1.6},{"v":1424,"f":1.84},{"v":1433,"f":1.3},{"v":1443,"f":0.9},{"v":1451,"f":1.0},{"v":1459,"f":1.15},{"v":1468,"f":0.95},{"v":1478,"f":0.75},{"v":1486,"f":1.0},{"v":1494,"f":0.9},{"v":1506,"f":1.1},{"v":1518,"f":1.35},{"v":1530,"f":1.0},{"v":1541,"f":0.75},{"v":1552,"f":0.9},{"v":1564,"f":1.1},{"v":1575,"f":1.2},{"v":1587,"f":0.95},{"v":1599,"f":1.05},{"v":1611,"f":1.2},{"v":1622,"f":1.4},{"v":1634,"f":1.59},{"v":1643,"f":1.2},{"v":1653,"f":0.9},{"v":1661,"f":0.75},{"v":1669,"f":0.6},{"v":1677,"f":0.5},{"v":1685,"f":0.41},{"v":1694,"f":0.3},{"v":1704,"f":0.21},{"v":1708,"f":0.4},{"v":1713,"f":0.5},{"v":1718,"f":0.0},{"v":1723,"f":-0.44},{"v":1730,"f":0.1},{"v":1737,"f":0.41},{"v":1744,"f":0.3},{"v":1751,"f":0.5},{"v":1758,"f":0.7},{"v":1765,"f":0.9},{"v":1772,"f":0.8},{"v":1779,"f":0.75},{"v":1788,"f":0.6},{"v":1797,"f":0.5},{"v":1809,"f":0.75},{"v":1821,"f":0.9},{"v":1832,"f":1.05},{"v":1844,"f":1.15},{"v":1853,"f":0.9},{"v":1862,"f":0.7},{"v":1870,"f":0.8},{"v":1879,"f":0.9},{"v":1887,"f":0.75},{"v":1895,"f":0.6},{"v":1905,"f":0.7},{"v":1914,"f":0.8},{"v":1925,"f":0.6},{"v":1937,"f":0.7},{"v":1946,"f":0.85},{"v":1956,"f":1.0},{"v":1964,"f":1.15},{"v":1972,"f":1.3},{"v":1978,"f":0.9},{"v":1984,"f":0.65},{"v":1990,"f":0.55},{"v":1995,"f":0.41},{"v":2000,"f":0.41}],
"s5": [{"v":-1998,"f":1.0},{"v":-1979,"f":0.95},{"v":-1967,"f":0.8},{"v":-1956,"f":0.56},{"v":-1944,"f":0.66},{"v":-1932,"f":0.24},{"v":-1921,"f":0.46},{"v":-1909,"f":0.31},{"v":-1897,"f":0.61},{"v":-1886,"f":0.21},{"v":-1874,"f":0.36},{"v":-1862,"f":-0.08},{"v":-1851,"f":0.26},{"v":-1839,"f":0.21},{"v":-1828,"f":0.46},{"v":-1816,"f":1.25},{"v":-1804,"f":0.95},{"v":-1793,"f":0.7},{"v":-1781,"f":1.62},{"v":-1769,"f":0.75},{"v":-1758,"f":0.8},{"v":-1746,"f":0.56},{"v":-1734,"f":0.46},{"v":-1723,"f":0.8},{"v":-1711,"f":0.75},{"v":-1699,"f":0.66},{"v":-1688,"f":0.75},{"v":-1676,"f":0.61},{"v":-1664,"f":0.46},{"v":-1653,"f":0.7},{"v":-1641,"f":0.8},{"v":-1629,"f":0.85},{"v":-1618,"f":1.0},{"v":-1601,"f":0.95},{"v":-1583,"f":0.9},{"v":-1564,"f":1.05},{"v":-1548,"f":1.34},{"v":-1531,"f":0.7},{"v":-1513,"f":0.46},{"v":-1496,"f":1.05},{"v":-1478,"f":1.2},{"v":-1462,"f":0.95},{"v":-1443,"f":1.05},{"v":-1431,"f":1.3},{"v":-1420,"f":1.62},{"v":-1401,"f":0.95},{"v":-1385,"f":0.9},{"v":-1368,"f":1.2},{"v":-1350,"f":1.3},{"v":-1331,"f":0.95},{"v":-1315,"f":0.7},{"v":-1298,"f":0.85},{"v":-1280,"f":1.05},{"v":-1261,"f":0.85},{"v":-1245,"f":0.7},{"v":-1228,"f":0.95},{"v":-1210,"f":0.95},{"v":-1186,"f":0.75},{"v":-1163,"f":0.61},{"v":-1140,"f":0.56},{"v":-1117,"f":0.46},{"v":-1105,"f":0.75},{"v":-1093,"f":0.8},{"v":-1070,"f":0.41},{"v":-1047,"f":0.21},{"v":-1033,"f":0.95},{"v":-1023,"f":0.7},{"v":-1005,"f":0.46},{"v":-988,"f":0.41},{"v":-977,"f":0.7},{"v":-965,"f":0.16},{"v":-949,"f":0.95},{"v":-930,"f":1.3},{"v":-914,"f":0.7},{"v":-900,"f":1.2},{"v":-884,"f":0.51},{"v":-867,"f":0.95},{"v":-853,"f":1.34},{"v":-837,"f":1.59},{"v":-825,"f":0.66},{"v":-814,"f":1.84},{"v":-802,"f":0.95},{"v":-790,"f":0.75},{"v":-772,"f":1.2},{"v":-755,"f":1.34},{"v":-739,"f":0.7},{"v":-725,"f":0.95},{"v":-709,"f":0.85},{"v":-690,"f":1.3},{"v":-674,"f":1.54},{"v":-655,"f":0.95},{"v":-639,"f":0.75},{"v":-627,"f":0.46},{"v":-615,"f":0.21},{"v":-604,"f":0.46},{"v":-592,"f":-0.38},{"v":-580,"f":0.06},{"v":-569,"f":0.01},{"v":-557,"f":0.46},{"v":-546,"f":0.26},{"v":-534,"f":-0.03},{"v":-522,"f":-0.38},{"v":-511,"f":-0.03},{"v":-499,"f":0.36},{"v":-487,"f":-0.03},{"v":-476,"f":-0.38},{"v":-464,"f":0.16},{"v":-452,"f":0.26},{"v":-441,"f":0.46},{"v":-429,"f":0.7},{"v":-417,"f":0.95},{"v":-406,"f":1.2},{"v":-394,"f":1.74},{"v":-383,"f":0.95},{"v":-371,"f":0.95},{"v":-352,"f":0.8},{"v":-336,"f":1.05},{"v":-319,"f":0.95},{"v":-301,"f":1.34},{"v":-284,"f":0.95},{"v":-266,"f":0.95},{"v":-254,"f":0.7},{"v":-242,"f":1.44},{"v":-231,"f":1.05},{"v":-219,"f":1.84},{"v":-207,"f":1.05},{"v":-196,"f":0.95},{"v":-184,"f":0.7},{"v":-172,"f":0.21},{"v":-161,"f":0.95},{"v":-149,"f":1.2},{"v":-133,"f":0.85},{"v":-114,"f":0.95},{"v":-96,"f":1.0},{"v":-79,"f":1.69},{"v":-63,"f":0.95},{"v":-44,"f":0.95},{"v":-33,"f":1.1},{"v":-21,"f":1.34},{"v":-2,"f":0.95},{"v":14,"f":0.56},{"v":21,"f":0.7},{"v":37,"f":0.95},{"v":49,"f":0.16},{"v":61,"f":0.46},{"v":72,"f":-0.38},{"v":84,"f":0.46},{"v":96,"f":0.95},{"v":107,"f":0.7},{"v":119,"f":0.95},{"v":131,"f":0.01},{"v":142,"f":1.2},{"v":154,"f":1.64},{"v":166,"f":1.05},{"v":177,"f":0.95},{"v":189,"f":0.9},{"v":200,"f":1.2},{"v":212,"f":1.34},{"v":224,"f":0.95},{"v":235,"f":0.95},{"v":247,"f":0.7},{"v":263,"f":0.95},{"v":282,"f":1.2},{"v":298,"f":0.95},{"v":312,"f":0.8},{"v":329,"f":0.95},{"v":340,"f":1.15},{"v":352,"f":1.59},{"v":364,"f":1.05},{"v":375,"f":0.8},{"v":387,"f":0.85},{"v":403,"f":0.7},{"v":422,"f":1.25},{"v":434,"f":1.44},{"v":445,"f":1.54},{"v":457,"f":0.95},{"v":469,"f":-0.38},{"v":476,"f":0.31},{"v":487,"f":0.46},{"v":501,"f":0.31},{"v":515,"f":0.4},{"v":527,"f":0.51},{"v":538,"f":0.06},{"v":550,"f":0.56},{"v":562,"f":0.66},{"v":571,"f":0.46},{"v":580,"f":-0.13},{"v":592,"f":0.56},{"v":608,"f":0.56},{"v":620,"f":0.75},{"v":632,"f":0.75},{"v":643,"f":0.46},{"v":655,"f":0.4},{"v":667,"f":0.36},{"v":678,"f":0.85},{"v":690,"f":0.66},{"v":702,"f":0.85},{"v":713,"f":0.56},{"v":725,"f":0.95},{"v":737,"f":1.2},{"v":748,"f":0.85},{"v":760,"f":0.66},{"v":772,"f":0.95},{"v":783,"f":1.2},{"v":795,"f":1.05},{"v":807,"f":0.85},{"v":818,"f":1.3},{"v":830,"f":0.95},{"v":842,"f":1.15},{"v":860,"f":1.54},{"v":876,"f":0.85},{"v":888,"f":0.95},{"v":900,"f":1.05},{"v":911,"f":0.95},{"v":923,"f":1.2},{"v":935,"f":1.44},{"v":946,"f":0.95},{"v":958,"f":1.1},{"v":970,"f":1.2},{"v":981,"f":0.95},{"v":993,"f":1.15},{"v":1005,"f":1.44},{"v":1016,"f":0.95},{"v":1028,"f":0.7},{"v":1040,"f":0.46},{"v":1051,"f":1.44},{"v":1063,"f":0.95},{"v":1075,"f":1.05},{"v":1086,"f":0.95},{"v":1098,"f":1.2},{"v":1110,"f":0.85},{"v":1121,"f":1.05},{"v":1133,"f":0.95},{"v":1145,"f":1.2},{"v":1156,"f":0.95},{"v":1168,"f":1.05},{"v":1186,"f":1.84},{"v":1196,"f":0.95},{"v":1214,"f":0.95},{"v":1226,"f":0.66},{"v":1238,"f":1.1},{"v":1249,"f":1.2},{"v":1261,"f":0.95},{"v":1273,"f":1.05},{"v":1284,"f":0.61},{"v":1296,"f":0.95},{"v":1308,"f":1.05},{"v":1319,"f":1.49},{"v":1331,"f":0.95},{"v":1343,"f":1.2},{"v":1354,"f":0.8},{"v":1366,"f":0.56},{"v":1378,"f":0.31},{"v":1389,"f":0.95},{"v":1401,"f":1.44},{"v":1413,"f":0.95},{"v":1424,"f":1.2},{"v":1436,"f":1.05},{"v":1448,"f":1.3},{"v":1459,"f":0.95},{"v":1471,"f":1.05},{"v":1483,"f":0.8},{"v":1494,"f":1.25},{"v":1506,"f":1.05},{"v":1518,"f":1.05},{"v":1529,"f":0.95},{"v":1541,"f":0.8},{"v":1552,"f":0.56},{"v":1564,"f":0.46},{"v":1576,"f":0.16},{"v":1587,"f":0.06},{"v":1599,"f":0.46},{"v":1611,"f":-0.13},{"v":1622,"f":0.16},{"v":1634,"f":0.01},{"v":1646,"f":0.46},{"v":1657,"f":0.46},{"v":1669,"f":0.11},{"v":1681,"f":0.46},{"v":1692,"f":0.16},{"v":1704,"f":0.56},{"v":1716,"f":1.0},{"v":1727,"f":0.95},{"v":1739,"f":1.2},{"v":1751,"f":1.3},{"v":1762,"f":1.2},{"v":1774,"f":1.49},{"v":1786,"f":1.44},{"v":1797,"f":1.44},{"v":1809,"f":0.95},{"v":1821,"f":0.95},{"v":1832,"f":0.85},{"v":1844,"f":0.8},{"v":1856,"f":0.95},{"v":1867,"f":0.66},{"v":1879,"f":0.46},{"v":1891,"f":0.21},{"v":1902,"f":0.36},{"v":1909,"f":-0.03},{"v":1925,"f":0.46},{"v":1937,"f":0.56},{"v":1949,"f":0.7},{"v":1960,"f":0.61},{"v":1972,"f":0.46},{"v":1988,"f":-0.13},{"v":2000,"f":0.2}]
},
"vconcat": [
{
  "width": 572, "height": 155,
  "resolve": {"axis": {"x": "independent", "y": "independent"}},
  "layer": [
    {"data": {"name": "s1"}, "mark": {"type": "line", "interpolate": "step", "color": "black", "strokeWidth": 1, "clip": true},
     "encoding": {
       "x": {"field": "v", "type": "quantitative", "scale": {"domain": [-2000, 2000], "nice": false, "zero": false},
             "axis": {"orient": "bottom", "values": [-2000,-1900,-1800,-1700,-1600,-1500,-1400,-1300,-1200,-1100,-1000,-900,-800,-700,-600,-500,-400,-300,-200,-100,0,100,200,300,400,500,600,700,800,900,1000,1100,1200,1300,1400,1500,1600,1700,1800,1900,2000], "tickSize": {"condition": {"test": "datum.value % 1000 === 0", "value": -8}, "value": -4}, "labels": false, "title": null}},
       "y": {"field": "f", "type": "quantitative", "scale": {"domain": [-0.1, 1.8], "nice": false, "zero": false},
             "axis": {"orient": "left", "values": [0,0.1,0.2,0.3,0.4,0.5,0.6,0.7,0.8,0.9,1,1.1,1.2,1.3,1.4,1.5,1.6,1.7], "tickSize": {"condition": {"test": "datum.value === 0 || datum.value === 1", "value": -8}, "value": -4}, "labelExpr": "datum.value === 0 || datum.value === 1 ? '' + datum.value : ''", "labelPadding": 14, "title": null}}
     }},
    {"data": {"name": "m1"}, "mark": {"type": "line", "color": "#e8174b", "strokeWidth": 3.5, "clip": true},
     "encoding": {"x": {"field": "v", "type": "quantitative", "axis": null}, "y": {"field": "f", "type": "quantitative", "axis": null}}},
    {"data": {"name": "m1"}, "mark": {"type": "line", "color": "#7a0018", "strokeWidth": 0.8, "clip": true},
     "encoding": {"x": {"field": "v", "type": "quantitative", "axis": null}, "y": {"field": "f", "type": "quantitative", "axis": null}}},
    {"data": {"name": "lev"}, "mark": {"type": "rule", "color": "black", "strokeWidth": 1, "strokeDash": [1.5, 3]},
     "encoding": {"y": {"field": "f", "type": "quantitative", "axis": null}}},
    {"data": {"values": [{"v": 762, "a": 1.15, "b": 1.44}]}, "mark": {"type": "rule", "color": "#c414c6", "strokeWidth": 3.5},
     "encoding": {"x": {"field": "v", "type": "quantitative", "axis": null}, "y": {"field": "a", "type": "quantitative", "axis": null}, "y2": {"field": "b"}}},
    {"data": {"values": [{"v": 762, "f": 1.51, "t": "73"}]}, "mark": {"type": "text", "align": "center", "baseline": "alphabetic", "fontSize": 15, "font": "Liberation Serif"},
     "encoding": {"x": {"field": "v", "type": "quantitative", "axis": null}, "y": {"field": "f", "type": "quantitative", "axis": null}, "text": {"field": "t"}}},
    {"data": {"values": [{"v": -1797, "f": 1.49, "t": "Nearby galaxies:"}, {"v": -1797, "f": 1.2, "t": "(impact param. in kpc)"}, {"v": -1797, "f": 0.05, "t": "H I Lyγ"}]}, "mark": {"type": "text", "align": "left", "baseline": "alphabetic", "fontSize": 16, "font": "Liberation Serif"},
     "encoding": {"x": {"field": "v", "type": "quantitative", "axis": null}, "y": {"field": "f", "type": "quantitative", "axis": null}, "text": {"field": "t"}}},
    {"data": {"values": [{"v": 622, "f": 1.92, "t": "GMBCG J255.34805+64.23661, z"}]}, "mark": {"type": "text", "align": "right", "baseline": "alphabetic", "fontSize": 20.7, "font": "Liberation Serif"},
     "encoding": {"x": {"field": "v", "type": "quantitative", "axis": null}, "y": {"field": "f", "type": "quantitative", "axis": null}, "text": {"field": "t"}}},
    {"data": {"values": [{"v": 626, "f": 1.86, "t": "c"}]}, "mark": {"type": "text", "align": "left", "baseline": "alphabetic", "fontSize": 14, "font": "Liberation Serif"},
     "encoding": {"x": {"field": "v", "type": "quantitative", "axis": null}, "y": {"field": "f", "type": "quantitative", "axis": null}, "text": {"field": "t"}}},
    {"data": {"values": [{"v": 705, "f": 1.92, "t": "="}, {"v": 958, "f": 1.92, "t": "0.4523"}]}, "mark": {"type": "text", "align": "left", "baseline": "alphabetic", "fontSize": 20.7, "font": "Liberation Serif"},
     "encoding": {"x": {"field": "v", "type": "quantitative", "axis": null}, "y": {"field": "f", "type": "quantitative", "axis": null}, "text": {"field": "t"}}},
    {"data": {"name": "lev"}, "transform": [{"calculate": "0", "as": "v"}], "mark": {"type": "point", "opacity": 0},
     "encoding": {
       "x": {"field": "v", "type": "quantitative", "axis": {"orient": "top", "values": [-2000,-1900,-1800,-1700,-1600,-1500,-1400,-1300,-1200,-1100,-1000,-900,-800,-700,-600,-500,-400,-300,-200,-100,0,100,200,300,400,500,600,700,800,900,1000,1100,1200,1300,1400,1500,1600,1700,1800,1900,2000], "tickSize": {"condition": {"test": "datum.value % 1000 === 0", "value": -8}, "value": -4}, "labels": false, "title": null}},
       "y": {"field": "f", "type": "quantitative", "axis": {"orient": "right", "values": [0,0.1,0.2,0.3,0.4,0.5,0.6,0.7,0.8,0.9,1,1.1,1.2,1.3,1.4,1.5,1.6,1.7], "tickSize": {"condition": {"test": "datum.value === 0 || datum.value === 1", "value": -8}, "value": -4}, "labels": false, "title": null}}
     }}
  ]
},
{
  "width": 572, "height": 155,
  "resolve": {"axis": {"x": "independent", "y": "independent"}},
  "layer": [
    {"data": {"name": "s2"}, "mark": {"type": "line", "interpolate": "step", "color": "black", "strokeWidth": 1, "clip": true},
     "encoding": {
       "x": {"field": "v", "type": "quantitative", "scale": {"domain": [-2000, 2000], "nice": false, "zero": false},
             "axis": {"orient": "bottom", "values": [-2000,-1900,-1800,-1700,-1600,-1500,-1400,-1300,-1200,-1100,-1000,-900,-800,-700,-600,-500,-400,-300,-200,-100,0,100,200,300,400,500,600,700,800,900,1000,1100,1200,1300,1400,1500,1600,1700,1800,1900,2000], "tickSize": {"condition": {"test": "datum.value % 1000 === 0", "value": -8}, "value": -4}, "labels": false, "title": null}},
       "y": {"field": "f", "type": "quantitative", "scale": {"domain": [-0.1, 1.8], "nice": false, "zero": false},
             "axis": {"orient": "left", "values": [0,0.1,0.2,0.3,0.4,0.5,0.6,0.7,0.8,0.9,1,1.1,1.2,1.3,1.4,1.5,1.6,1.7], "tickSize": {"condition": {"test": "datum.value === 0 || datum.value === 1", "value": -8}, "value": -4}, "labelExpr": "datum.value === 0 || datum.value === 1 ? '' + datum.value : ''", "labelPadding": 14, "title": null}}
     }},
    {"data": {"name": "m2"}, "mark": {"type": "line", "color": "#e8174b", "strokeWidth": 3.5, "clip": true},
     "encoding": {"x": {"field": "v", "type": "quantitative", "axis": null}, "y": {"field": "f", "type": "quantitative", "axis": null}}},
    {"data": {"name": "m2"}, "mark": {"type": "line", "color": "#7a0018", "strokeWidth": 0.8, "clip": true},
     "encoding": {"x": {"field": "v", "type": "quantitative", "axis": null}, "y": {"field": "f", "type": "quantitative", "axis": null}}},
    {"data": {"name": "lev"}, "mark": {"type": "rule", "color": "black", "strokeWidth": 1, "strokeDash": [1.5, 3]},
     "encoding": {"y": {"field": "f", "type": "quantitative", "axis": null}}},
    {"data": {"values": [{"v": 762, "a": 1.15, "b": 1.44}]}, "mark": {"type": "rule", "color": "#c414c6", "strokeWidth": 3.5},
     "encoding": {"x": {"field": "v", "type": "quantitative", "axis": null}, "y": {"field": "a", "type": "quantitative", "axis": null}, "y2": {"field": "b"}}},
    {"data": {"values": [{"v": -1797, "f": 0.1, "t": "H I Lyδ"}]}, "mark": {"type": "text", "align": "left", "baseline": "alphabetic", "fontSize": 16, "font": "Liberation Serif"},
     "encoding": {"x": {"field": "v", "type": "quantitative", "axis": null}, "y": {"field": "f", "type": "quantitative", "axis": null}, "text": {"field": "t"}}},
    {"data": {"name": "lev"}, "transform": [{"calculate": "0", "as": "v"}], "mark": {"type": "point", "opacity": 0},
     "encoding": {
       "x": {"field": "v", "type": "quantitative", "axis": {"orient": "top", "values": [-2000,-1900,-1800,-1700,-1600,-1500,-1400,-1300,-1200,-1100,-1000,-900,-800,-700,-600,-500,-400,-300,-200,-100,0,100,200,300,400,500,600,700,800,900,1000,1100,1200,1300,1400,1500,1600,1700,1800,1900,2000], "tickSize": {"condition": {"test": "datum.value % 1000 === 0", "value": -8}, "value": -4}, "labels": false, "title": null}},
       "y": {"field": "f", "type": "quantitative", "axis": {"orient": "right", "values": [0,0.1,0.2,0.3,0.4,0.5,0.6,0.7,0.8,0.9,1,1.1,1.2,1.3,1.4,1.5,1.6,1.7], "tickSize": {"condition": {"test": "datum.value === 0 || datum.value === 1", "value": -8}, "value": -4}, "labels": false, "title": null}}
     }}
  ]
},
{
  "width": 572, "height": 155,
  "resolve": {"axis": {"x": "independent", "y": "independent"}},
  "layer": [
    {"data": {"name": "s3"}, "mark": {"type": "line", "interpolate": "step", "color": "black", "strokeWidth": 1, "clip": true},
     "encoding": {
       "x": {"field": "v", "type": "quantitative", "scale": {"domain": [-2000, 2000], "nice": false, "zero": false},
             "axis": {"orient": "bottom", "values": [-2000,-1900,-1800,-1700,-1600,-1500,-1400,-1300,-1200,-1100,-1000,-900,-800,-700,-600,-500,-400,-300,-200,-100,0,100,200,300,400,500,600,700,800,900,1000,1100,1200,1300,1400,1500,1600,1700,1800,1900,2000], "tickSize": {"condition": {"test": "datum.value % 1000 === 0", "value": -8}, "value": -4}, "labels": false, "title": null}},
       "y": {"field": "f", "type": "quantitative", "scale": {"domain": [-0.1, 1.8], "nice": false, "zero": false},
             "axis": {"orient": "left", "values": [0,0.1,0.2,0.3,0.4,0.5,0.6,0.7,0.8,0.9,1,1.1,1.2,1.3,1.4,1.5,1.6,1.7], "tickSize": {"condition": {"test": "datum.value === 0 || datum.value === 1", "value": -8}, "value": -4}, "labelExpr": "datum.value === 0 || datum.value === 1 ? '' + datum.value : ''", "labelPadding": 14, "title": "Normalized Flux", "titlePadding": 8}}
     }},
    {"data": {"name": "m3"}, "mark": {"type": "line", "color": "#e8174b", "strokeWidth": 3.5, "clip": true},
     "encoding": {"x": {"field": "v", "type": "quantitative", "axis": null}, "y": {"field": "f", "type": "quantitative", "axis": null}}},
    {"data": {"name": "m3"}, "mark": {"type": "line", "color": "#7a0018", "strokeWidth": 0.8, "clip": true},
     "encoding": {"x": {"field": "v", "type": "quantitative", "axis": null}, "y": {"field": "f", "type": "quantitative", "axis": null}}},
    {"data": {"name": "lev"}, "mark": {"type": "rule", "color": "black", "strokeWidth": 1, "strokeDash": [1.5, 3]},
     "encoding": {"y": {"field": "f", "type": "quantitative", "axis": null}}},
    {"data": {"values": [{"v": 762, "a": 1.15, "b": 1.44}]}, "mark": {"type": "rule", "color": "#c414c6", "strokeWidth": 3.5},
     "encoding": {"x": {"field": "v", "type": "quantitative", "axis": null}, "y": {"field": "a", "type": "quantitative", "axis": null}, "y2": {"field": "b"}}},
    {"data": {"values": [{"v": -1797, "f": 0.1, "t": "H I Lyε"}]}, "mark": {"type": "text", "align": "left", "baseline": "alphabetic", "fontSize": 16, "font": "Liberation Serif"},
     "encoding": {"x": {"field": "v", "type": "quantitative", "axis": null}, "y": {"field": "f", "type": "quantitative", "axis": null}, "text": {"field": "t"}}},
    {"data": {"values": [{"v": -1424, "f": 0.83, "t": "⊕"}]}, "mark": {"type": "text", "align": "center", "baseline": "middle", "fontSize": 14, "font": "DejaVu Serif"},
     "encoding": {"x": {"field": "v", "type": "quantitative", "axis": null}, "y": {"field": "f", "type": "quantitative", "axis": null}, "text": {"field": "t"}}},
    {"data": {"name": "lev"}, "transform": [{"calculate": "0", "as": "v"}], "mark": {"type": "point", "opacity": 0},
     "encoding": {
       "x": {"field": "v", "type": "quantitative", "axis": {"orient": "top", "values": [-2000,-1900,-1800,-1700,-1600,-1500,-1400,-1300,-1200,-1100,-1000,-900,-800,-700,-600,-500,-400,-300,-200,-100,0,100,200,300,400,500,600,700,800,900,1000,1100,1200,1300,1400,1500,1600,1700,1800,1900,2000], "tickSize": {"condition": {"test": "datum.value % 1000 === 0", "value": -8}, "value": -4}, "labels": false, "title": null}},
       "y": {"field": "f", "type": "quantitative", "axis": {"orient": "right", "values": [0,0.1,0.2,0.3,0.4,0.5,0.6,0.7,0.8,0.9,1,1.1,1.2,1.3,1.4,1.5,1.6,1.7], "tickSize": {"condition": {"test": "datum.value === 0 || datum.value === 1", "value": -8}, "value": -4}, "labels": false, "title": null}}
     }}
  ]
},
{
  "width": 572, "height": 155,
  "resolve": {"axis": {"x": "independent", "y": "independent"}},
  "layer": [
    {"data": {"name": "s4"}, "mark": {"type": "line", "interpolate": "step", "color": "black", "strokeWidth": 1, "clip": true},
     "encoding": {
       "x": {"field": "v", "type": "quantitative", "scale": {"domain": [-2000, 2000], "nice": false, "zero": false},
             "axis": {"orient": "bottom", "values": [-2000,-1900,-1800,-1700,-1600,-1500,-1400,-1300,-1200,-1100,-1000,-900,-800,-700,-600,-500,-400,-300,-200,-100,0,100,200,300,400,500,600,700,800,900,1000,1100,1200,1300,1400,1500,1600,1700,1800,1900,2000], "tickSize": {"condition": {"test": "datum.value % 1000 === 0", "value": -8}, "value": -4}, "labels": false, "title": null}},
       "y": {"field": "f", "type": "quantitative", "scale": {"domain": [-0.4, 1.9], "nice": false, "zero": false},
             "axis": {"orient": "left", "values": [-0.3,-0.2,-0.1,0,0.1,0.2,0.3,0.4,0.5,0.6,0.7,0.8,0.9,1,1.1,1.2,1.3,1.4,1.5,1.6,1.7,1.8], "tickSize": {"condition": {"test": "datum.value === 0 || datum.value === 1", "value": -8}, "value": -4}, "labelExpr": "datum.value === 0 || datum.value === 1 ? '' + datum.value : ''", "labelPadding": 14, "title": null}}
     }},
    {"data": {"name": "m4"}, "mark": {"type": "line", "color": "#e8174b", "strokeWidth": 3.5, "clip": true},
     "encoding": {"x": {"field": "v", "type": "quantitative", "axis": null}, "y": {"field": "f", "type": "quantitative", "axis": null}}},
    {"data": {"name": "m4"}, "mark": {"type": "line", "color": "#7a0018", "strokeWidth": 0.8, "clip": true},
     "encoding": {"x": {"field": "v", "type": "quantitative", "axis": null}, "y": {"field": "f", "type": "quantitative", "axis": null}}},
    {"data": {"name": "lev"}, "mark": {"type": "rule", "color": "black", "strokeWidth": 1, "strokeDash": [1.5, 3]},
     "encoding": {"y": {"field": "f", "type": "quantitative", "axis": null}}},
    {"data": {"values": [{"v": 762, "a": 1.36, "b": 1.76}]}, "mark": {"type": "rule", "color": "#c414c6", "strokeWidth": 3.5},
     "encoding": {"x": {"field": "v", "type": "quantitative", "axis": null}, "y": {"field": "a", "type": "quantitative", "axis": null}, "y2": {"field": "b"}}},
    {"data": {"values": [{"v": -1797, "f": -0.36, "t": "O VI λ1031.93"}]}, "mark": {"type": "text", "align": "left", "baseline": "alphabetic", "fontSize": 16, "font": "Liberation Serif"},
     "encoding": {"x": {"field": "v", "type": "quantitative", "axis": null}, "y": {"field": "f", "type": "quantitative", "axis": null}, "text": {"field": "t"}}},
    {"data": {"name": "lev"}, "transform": [{"calculate": "0", "as": "v"}], "mark": {"type": "point", "opacity": 0},
     "encoding": {
       "x": {"field": "v", "type": "quantitative", "axis": {"orient": "top", "values": [-2000,-1900,-1800,-1700,-1600,-1500,-1400,-1300,-1200,-1100,-1000,-900,-800,-700,-600,-500,-400,-300,-200,-100,0,100,200,300,400,500,600,700,800,900,1000,1100,1200,1300,1400,1500,1600,1700,1800,1900,2000], "tickSize": {"condition": {"test": "datum.value % 1000 === 0", "value": -8}, "value": -4}, "labels": false, "title": null}},
       "y": {"field": "f", "type": "quantitative", "axis": {"orient": "right", "values": [-0.3,-0.2,-0.1,0,0.1,0.2,0.3,0.4,0.5,0.6,0.7,0.8,0.9,1,1.1,1.2,1.3,1.4,1.5,1.6,1.7,1.8], "tickSize": {"condition": {"test": "datum.value === 0 || datum.value === 1", "value": -8}, "value": -4}, "labels": false, "title": null}}
     }}
  ]
},
{
  "width": 572, "height": 155,
  "resolve": {"axis": {"x": "independent", "y": "independent"}},
  "layer": [
    {"data": {"name": "s5"}, "mark": {"type": "line", "interpolate": "step", "color": "black", "strokeWidth": 1, "clip": true},
     "encoding": {
       "x": {"field": "v", "type": "quantitative", "scale": {"domain": [-2000, 2000], "nice": false, "zero": false},
             "axis": {"orient": "bottom", "values": [-2000,-1900,-1800,-1700,-1600,-1500,-1400,-1300,-1200,-1100,-1000,-900,-800,-700,-600,-500,-400,-300,-200,-100,0,100,200,300,400,500,600,700,800,900,1000,1100,1200,1300,1400,1500,1600,1700,1800,1900,2000], "tickSize": {"condition": {"test": "datum.value % 1000 === 0", "value": -8}, "value": -4}, "labelExpr": "datum.value % 1000 === 0 ? '' + datum.value : ''", "labelPadding": 17, "title": "Absorber Velocity (km s⁻¹)", "titlePadding": 4}},
       "y": {"field": "f", "type": "quantitative", "scale": {"domain": [-0.4, 1.9], "nice": false, "zero": false},
             "axis": {"orient": "left", "values": [-0.3,-0.2,-0.1,0,0.1,0.2,0.3,0.4,0.5,0.6,0.7,0.8,0.9,1,1.1,1.2,1.3,1.4,1.5,1.6,1.7,1.8], "tickSize": {"condition": {"test": "datum.value === 0 || datum.value === 1", "value": -8}, "value": -4}, "labelExpr": "datum.value === 0 || datum.value === 1 ? '' + datum.value : ''", "labelPadding": 14, "title": null}}
     }},
    {"data": {"name": "m5"}, "mark": {"type": "line", "color": "#e8174b", "strokeWidth": 3.5, "clip": true},
     "encoding": {"x": {"field": "v", "type": "quantitative", "axis": null}, "y": {"field": "f", "type": "quantitative", "axis": null}}},
    {"data": {"name": "m5"}, "mark": {"type": "line", "color": "#7a0018", "strokeWidth": 0.8, "clip": true},
     "encoding": {"x": {"field": "v", "type": "quantitative", "axis": null}, "y": {"field": "f", "type": "quantitative", "axis": null}}},
    {"data": {"name": "lev"}, "mark": {"type": "rule", "color": "black", "strokeWidth": 1, "strokeDash": [1.5, 3]},
     "encoding": {"y": {"field": "f", "type": "quantitative", "axis": null}}},
    {"data": {"values": [{"v": 762, "a": 1.36, "b": 1.74}]}, "mark": {"type": "rule", "color": "#c414c6", "strokeWidth": 3.5},
     "encoding": {"x": {"field": "v", "type": "quantitative", "axis": null}, "y": {"field": "a", "type": "quantitative", "axis": null}, "y2": {"field": "b"}}},
    {"data": {"values": [{"v": -1797, "f": -0.26, "t": "O VI λ1037.62"}]}, "mark": {"type": "text", "align": "left", "baseline": "alphabetic", "fontSize": 16, "font": "Liberation Serif"},
     "encoding": {"x": {"field": "v", "type": "quantitative", "axis": null}, "y": {"field": "f", "type": "quantitative", "axis": null}, "text": {"field": "t"}}},
    {"data": {"name": "lev"}, "transform": [{"calculate": "0", "as": "v"}], "mark": {"type": "point", "opacity": 0},
     "encoding": {
       "x": {"field": "v", "type": "quantitative", "axis": {"orient": "top", "values": [-2000,-1900,-1800,-1700,-1600,-1500,-1400,-1300,-1200,-1100,-1000,-900,-800,-700,-600,-500,-400,-300,-200,-100,0,100,200,300,400,500,600,700,800,900,1000,1100,1200,1300,1400,1500,1600,1700,1800,1900,2000], "tickSize": {"condition": {"test": "datum.value % 1000 === 0", "value": -8}, "value": -4}, "labels": false, "title": null}},
       "y": {"field": "f", "type": "quantitative", "axis": {"orient": "right", "values": [-0.3,-0.2,-0.1,0,0.1,0.2,0.3,0.4,0.5,0.6,0.7,0.8,0.9,1,1.1,1.2,1.3,1.4,1.5,1.6,1.7,1.8], "tickSize": {"condition": {"test": "datum.value === 0 || datum.value === 1", "value": -8}, "value": -4}, "labels": false, "title": null}}
     }}
  ]
}
]
}
